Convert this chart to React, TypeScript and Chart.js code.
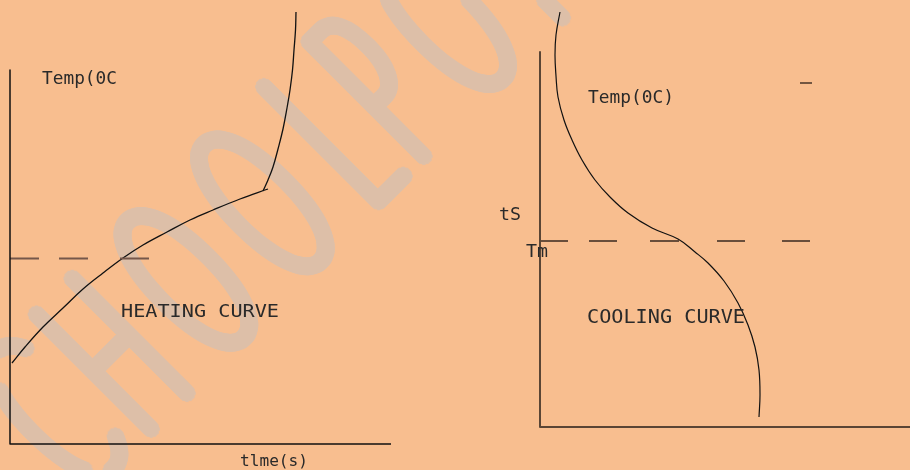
import React, { useEffect, useRef } from "react";
import { Chart, registerables } from "chart.js";

Chart.register(...registerables);

// ---- Data (diagram units: x to the right, y downward, 910 x 470 sheet) ----
// Heating curve (left panel)
const heatingX = [12, 25, 43, 63, 83, 103, 123, 143, 167, 190, 213, 240, 268];
const heatingY = [363, 347, 327, 308, 289, 273, 258, 245, 232, 220, 210, 199, 189];
// Steep rise after the knee
const riseX = [263, 268, 273, 278, 283, 287, 290, 292.5, 294, 295.5, 296];
const riseY = [191, 180, 167, 149, 129, 108, 90, 70, 50, 30, 12];
// Cooling curve (right panel)
const coolingX = [560, 556, 555, 556, 558, 564, 572, 582, 595, 610, 628, 652, 678, 695, 708, 724, 738, 748, 755, 759, 760, 759];
const coolingY = [12, 35, 55, 76, 97, 120, 140, 160, 180, 197, 213, 228, 239, 252, 263, 281, 303, 325, 347, 370, 395, 417];

// Axes (polyline: top of y axis -> origin -> end of x axis)
const leftAxisX = [10, 10, 391];
const leftAxisY = [70, 444, 444];
const rightAxisX = [540, 540, 910];
const rightAxisY = [52, 427, 427];

// Melting temperature level lines (dash start/end along x)
const leftTm = 258.5;
const leftDashes = [[10, 39], [59, 88], [120, 149]];
const rightTm = 241;
const rightDashes = [[540, 568], [589, 617], [650, 679], [717, 745], [782, 810]];
// Small stray tick (right panel)
const tickX = [800, 812];
const tickY = [83, 83];

// Text annotations
const labelTexts = ["Temp(0C", "HEATING CURVE", "tlme(s)", "Temp(0C)", "tS", "Tm", "COOLING CURVE"];

// Watermark letters
const watermarkLetters = ["S", "C", "H", "O", "O", "L", "P", "O", "I", "N", "T"];

// ---- Layout / style (kept apart from the data) ----
const W = 910;
const H = 470;
const BG = "#F8BE8F";
const WM_COLOR = "#DDBFA8";
const labelBoxes = [
  { x: 42, y: 83.5, w: 75, cap: 12.5 },
  { x: 121, y: 317, w: 158, cap: 13.5 },
  { x: 240, y: 466, w: 68, cap: 12 },
  { x: 588, y: 103, w: 86, cap: 13 },
  { x: 499, y: 220, w: 22, cap: 13 },
  { x: 526, y: 257, w: 22, cap: 13 },
  { x: 587, y: 323, w: 158, cap: 14 },
];
const wmCentersU = [-370, -256, -171, -66, 42, 138, 205, 300, 385, 455, 535];
const wmBaselineV = 411;

function zipPts(xs: number[], ys: number[]) {
  return xs.map((x, i) => ({ x, y: ys[i] }));
}
function dashPts(dashes: number[][], y: number) {
  const out: any[] = [];
  dashes.forEach(([a, b], i) => {
    if (i > 0) out.push({ x: (a + dashes[i - 1][1]) / 2, y: null });
    out.push({ x: a, y });
    out.push({ x: b, y });
  });
  return out;
}

function lineDs(data: any[], color: string, width: number, tension = 0) {
  return {
    data,
    borderColor: color,
    borderWidth: width,
    tension,
    pointRadius: 0,
    pointHoverRadius: 0,
    fill: false,
    spanGaps: false,
    borderCapStyle: "butt",
    borderJoinStyle: "round",
  };
}

const bgPlugin = {
  id: "bg",
  beforeDraw(chart: any) {
    const ctx = chart.ctx;
    ctx.save();
    ctx.fillStyle = BG;
    ctx.fillRect(0, 0, chart.width, chart.height);
    ctx.restore();
  },
};

const watermarkPlugin = {
  id: "wm",
  beforeDatasetsDraw(chart: any) {
    const thin = document.createElement("canvas");
    thin.width = W;
    thin.height = H;
    const a = thin.getContext("2d")!;
    a.fillStyle = "#000";
    a.font = '100 234px "Lato Hairline", Lato, sans-serif';
    a.textAlign = "center";
    a.textBaseline = "alphabetic";
    const s2 = Math.SQRT2;
    watermarkLetters.forEach((ch, i) => {
      const u = wmCentersU[i];
      const v = wmBaselineV;
      const px = (u + v) / s2;
      const py = (v - u) / s2;
      a.save();
      a.translate(px, py);
      a.rotate(-Math.PI / 4);
      a.scale(0.43, 1);
      a.fillText(ch, 0, 0);
      a.restore();
    });
    const thick = document.createElement("canvas");
    thick.width = W;
    thick.height = H;
    const b = thick.getContext("2d")!;
    const r = 8;
    for (let dx = -r; dx <= r; dx++) {
      for (let dy = -r; dy <= r; dy++) {
        if (dx * dx + dy * dy <= r * r + 1) b.drawImage(thin, dx, dy);
      }
    }
    b.globalCompositeOperation = "source-in";
    b.fillStyle = WM_COLOR;
    b.fillRect(0, 0, W, H);
    const ctx = chart.ctx;
    ctx.save();
    ctx.drawImage(thick, 0, 0);
    ctx.restore();
  },
};

const labelPlugin = {
  id: "labels",
  afterDatasetsDraw(chart: any) {
    const ctx = chart.ctx;
    const xs = chart.scales.x;
    const ys = chart.scales.y;
    ctx.save();
    ctx.fillStyle = "#2a2a2a";
    ctx.textAlign = "left";
    ctx.textBaseline = "alphabetic";
    labelTexts.forEach((text, i) => {
      const bx = labelBoxes[i];
      const size = bx.cap / 0.73;
      ctx.font = `${size}px "DejaVu Sans Mono", monospace`;
      const m = ctx.measureText(text).width;
      ctx.save();
      ctx.translate(xs.getPixelForValue(bx.x), ys.getPixelForValue(bx.y));
      ctx.scale(bx.w / m, 1);
      ctx.fillText(text, 0, 0);
      ctx.restore();
    });
    ctx.restore();
  },
};

export default function App() {
  const ref = useRef<HTMLCanvasElement | null>(null);
  useEffect(() => {
    document.body.style.margin = "0";
    document.body.style.background = BG;
    const canvas = ref.current!;
    const chart = new Chart(canvas, {
      type: "line",
      data: {
        datasets: [
          lineDs(zipPts(leftAxisX, leftAxisY), "#111111", 1.5),
          lineDs(zipPts(rightAxisX, rightAxisY), "#5a4535", 2),
          lineDs(dashPts(leftDashes, leftTm), "#75574a", 2),
          lineDs(dashPts(rightDashes, rightTm), "#3a2a20", 1.6),
          lineDs(zipPts(tickX, tickY), "#3a2a20", 1.4),
          lineDs(zipPts(heatingX, heatingY), "#111111", 1.3, 0.4),
          lineDs(zipPts(riseX, riseY), "#111111", 1.3, 0.4),
          lineDs(zipPts(coolingX, coolingY), "#111111", 1.2, 0.4),
        ] as any,
      },
      options: {
        animation: false,
        responsive: false,
        maintainAspectRatio: false,
        events: [],
        layout: { padding: 0 },
        plugins: { legend: { display: false }, tooltip: { enabled: false } },
        scales: {
          x: { type: "linear", min: 0, max: W, display: false },
          y: { type: "linear", min: 0, max: H, reverse: true, display: false },
        },
        elements: { point: { radius: 0 } },
      },
      plugins: [bgPlugin, watermarkPlugin, labelPlugin],
    });
    return () => chart.destroy();
  }, []);
  return (
    <canvas ref={ref} width={W} height={H} style={{ display: "block", width: W, height: H }} />
  );
}
